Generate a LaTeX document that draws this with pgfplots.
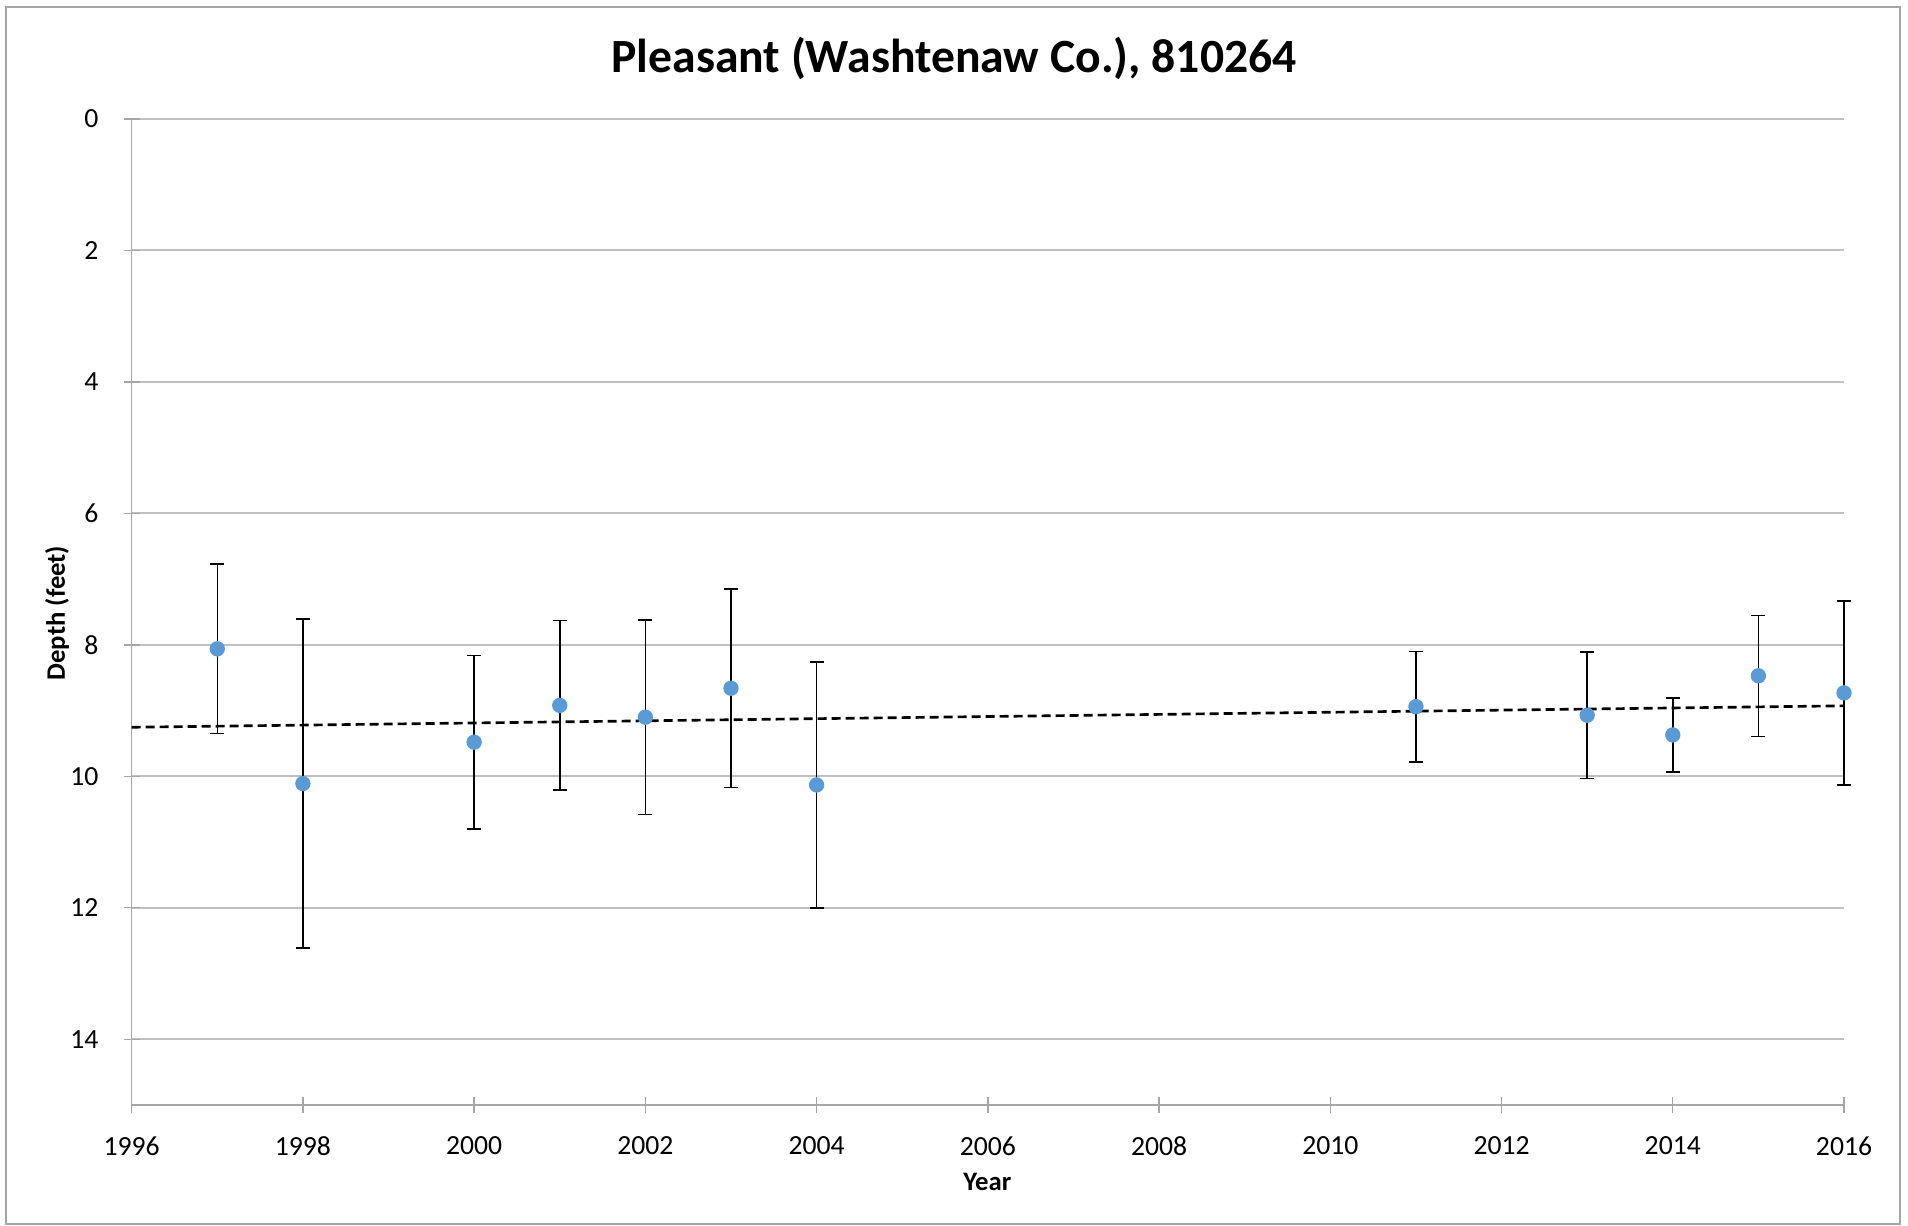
\documentclass[border=0pt]{standalone}
\usepackage{pgfplots}
\pgfplotsset{compat=1.18}
\usepackage{pgfplotstable}
\usepackage{fontspec}
\setmainfont{Carlito}
\definecolor{ptblue}{HTML}{5B9BD5}
\definecolor{gridgray}{HTML}{C0C0C0}
\definecolor{axgray}{HTML}{A6A6A6}
\pgfplotstableread{
x y e
1997 8.06 1.29
1998 10.11 2.50
2000 9.48 1.32
2001 8.92 1.29
2002 9.10 1.48
2003 8.66 1.51
2004 10.13 1.87
2011 8.94 0.84
2013 9.07 0.96
2014 9.37 0.56
2015 8.47 0.92
2016 8.73 1.40
}\depth
\pgfplotstableread{
x y
1996 9.253
2016 8.927
}\trend
\begin{document}
\begin{tikzpicture}
\useasboundingbox (0,0) rectangle (572.4pt,367.5pt);
\draw[axgray, line width=0.5pt] (1.8pt,0.3pt) rectangle (570pt,365.4pt);
\begin{axis}[
  at={(39.5pt,36pt)}, anchor=south west,
  scale only axis, width=513.7pt, height=295.8pt,
  xmin=1996, xmax=2016, ymin=0, ymax=15,
  y dir=reverse,
  xtick={1996,1998,...,2016},
  ytick={0,2,...,14},
  xtick pos=left, ytick pos=left,
  axis line style={draw=none},
  tick align=center,
  major tick length=4.8pt,
  tick style={axgray, line width=0.4pt},
  ymajorgrids,
  grid style={gridgray, line width=0.6pt},
  /pgf/number format/assume math mode=true,
  /pgf/number format/1000 sep={},
  ticklabel style={font=\fontsize{8.3}{9}\selectfont, inner sep=0pt},
  yticklabel style={anchor=east, xshift=-7.4pt},
  xticklabel style={anchor=north, yshift=-6.8pt},
  clip=false,
]
\draw[axgray, line width=0.4pt] (axis cs:1996,0) -- (axis cs:1996,15) -- (axis cs:2016,15);
\addplot[only marks, mark=*, mark size=2.1pt, mark options={draw=ptblue, fill=ptblue},
  error bars/.cd, y dir=both, y explicit,
  error bar style={black, line width=0.45pt},
  error mark options={rotate=90, mark size=2.1pt, black, line width=0.45pt}]
  table[x=x, y=y, y error=e] {\depth};
\addplot[black, line width=0.8pt, dash pattern=on 2.7pt off 1.5pt, no marks] table[x=x,y=y] {\trend};
\end{axis}
\node[anchor=base, font=\fontsize{14.3}{16}\selectfont\bfseries] at (286.2pt,345.6pt) {Pleasant (Washtenaw Co.), 810264};
\node[font=\fontsize{8}{9}\selectfont\bfseries] at (296.2pt,12.8pt) {Year};
\node[rotate=90, font=\fontsize{8}{9}\selectfont\bfseries] at (17.1pt,183.6pt) {Depth (feet)};
\end{tikzpicture}
\end{document}
